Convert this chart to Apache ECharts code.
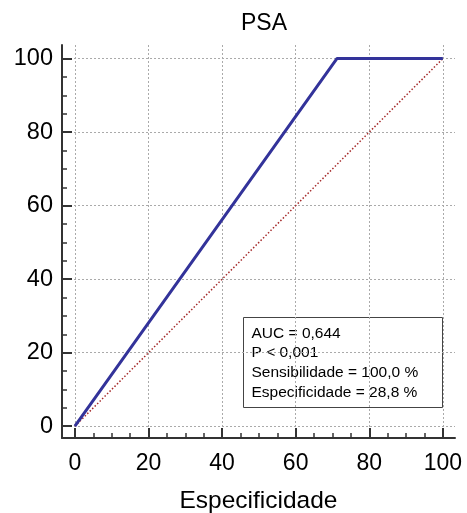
<!DOCTYPE html>
<html>
<head>
<meta charset="utf-8">
<script src="https://cdn.jsdelivr.net/npm/echarts@6/dist/echarts.min.js"></script>
<style>
  html, body { margin: 0; padding: 0; background: #fff; }
  #chart { width: 467px; height: 513px; }
</style>
</head>
<body>
<div id="chart"></div>
<script>
// ROC curve data
var rocCurve = [[0, 0], [71.2, 100], [100, 100]];
var refLine = [[0, 0], [100, 100]];
var majorTicks = [0, 20, 40, 60, 80, 100];
var minorTicks = [5, 10, 15, 25, 30, 35, 45, 50, 55, 65, 70, 75, 85, 90, 95];
var statsLines = ['AUC = 0,644', 'P < 0,001', 'Sensibilidade = 100,0 %', 'Especificidade = 28,8 %'];

var font = 'Liberation Sans, Arial, sans-serif';
var axisColor = '#333';

function majorAxis(extra) {
  var a = {
    type: 'value',
    min: extra.min,
    max: extra.max,
    position: extra.position,
    axisLine: { show: true, onZero: false, lineStyle: { color: axisColor, width: 2 } },
    axisTick: { show: true, inside: true, length: 10, customValues: majorTicks, lineStyle: { color: axisColor, width: 2 } },
    axisLabel: { customValues: majorTicks, color: '#000', fontSize: extra.fontSize, fontFamily: font, margin: extra.margin },
    splitLine: { show: true, lineStyle: { color: '#aaa', type: [2, 2], width: 1 } }
  };
  if (extra.name) {
    a.name = extra.name;
    a.nameLocation = 'middle';
    a.nameGap = extra.nameGap;
    a.nameTextStyle = { color: '#000', fontSize: 24.5, fontFamily: font };
  }
  return a;
}

function minorAxis(extra) {
  return {
    type: 'value',
    min: extra.min,
    max: extra.max,
    position: extra.position,
    axisLine: { show: false, onZero: false },
    axisTick: { show: true, inside: true, length: 5, customValues: minorTicks, lineStyle: { color: axisColor, width: 1.5 } },
    axisLabel: { show: false },
    splitLine: { show: false }
  };
}

var chart = echarts.init(document.getElementById('chart'));
chart.setOption({
  animation: false,
  title: {
    text: 'PSA',
    left: 259,
    textAlign: 'center',
    top: 7,
    textStyle: { color: '#000', fontSize: 23, fontWeight: 'normal', fontFamily: font }
  },
  grid: { left: 62, right: 12, top: 45, bottom: 75, containLabel: false, outerBoundsMode: 'none' },
  xAxis: [
    majorAxis({ min: -3.5, max: 103.3, position: 'bottom', margin: 14, fontSize: 23, name: 'Especificidade', nameGap: 51 }),
    minorAxis({ min: -3.5, max: 103.3, position: 'bottom' })
  ],
  yAxis: [
    majorAxis({ min: -3.2, max: 103.7, position: 'left', margin: 9, fontSize: 23.5 }),
    minorAxis({ min: -3.2, max: 103.7, position: 'left' })
  ],
  series: [
    {
      type: 'line',
      data: refLine,
      symbol: 'none',
      silent: true,
      lineStyle: { color: '#a52a2a', width: 1.5, type: [1.5, 2] }
    },
    {
      type: 'line',
      data: rocCurve,
      symbol: 'none',
      silent: true,
      lineStyle: { color: '#33339a', width: 3 }
    }
  ],
  graphic: [
    {
      type: 'group',
      left: 243,
      top: 317,
      children: [
        {
          type: 'rect',
          shape: { x: 0, y: 0, width: 199, height: 90 },
          style: { fill: '#fff', stroke: '#444', lineWidth: 1 }
        },
        {
          type: 'text',
          x: 8,
          y: 6,
          style: {
            text: statsLines.join('\n'),
            fill: '#000',
            font: '15.5px ' + font,
            lineHeight: 19.7
          }
        }
      ]
    }
  ]
});
</script>
</body>
</html>
